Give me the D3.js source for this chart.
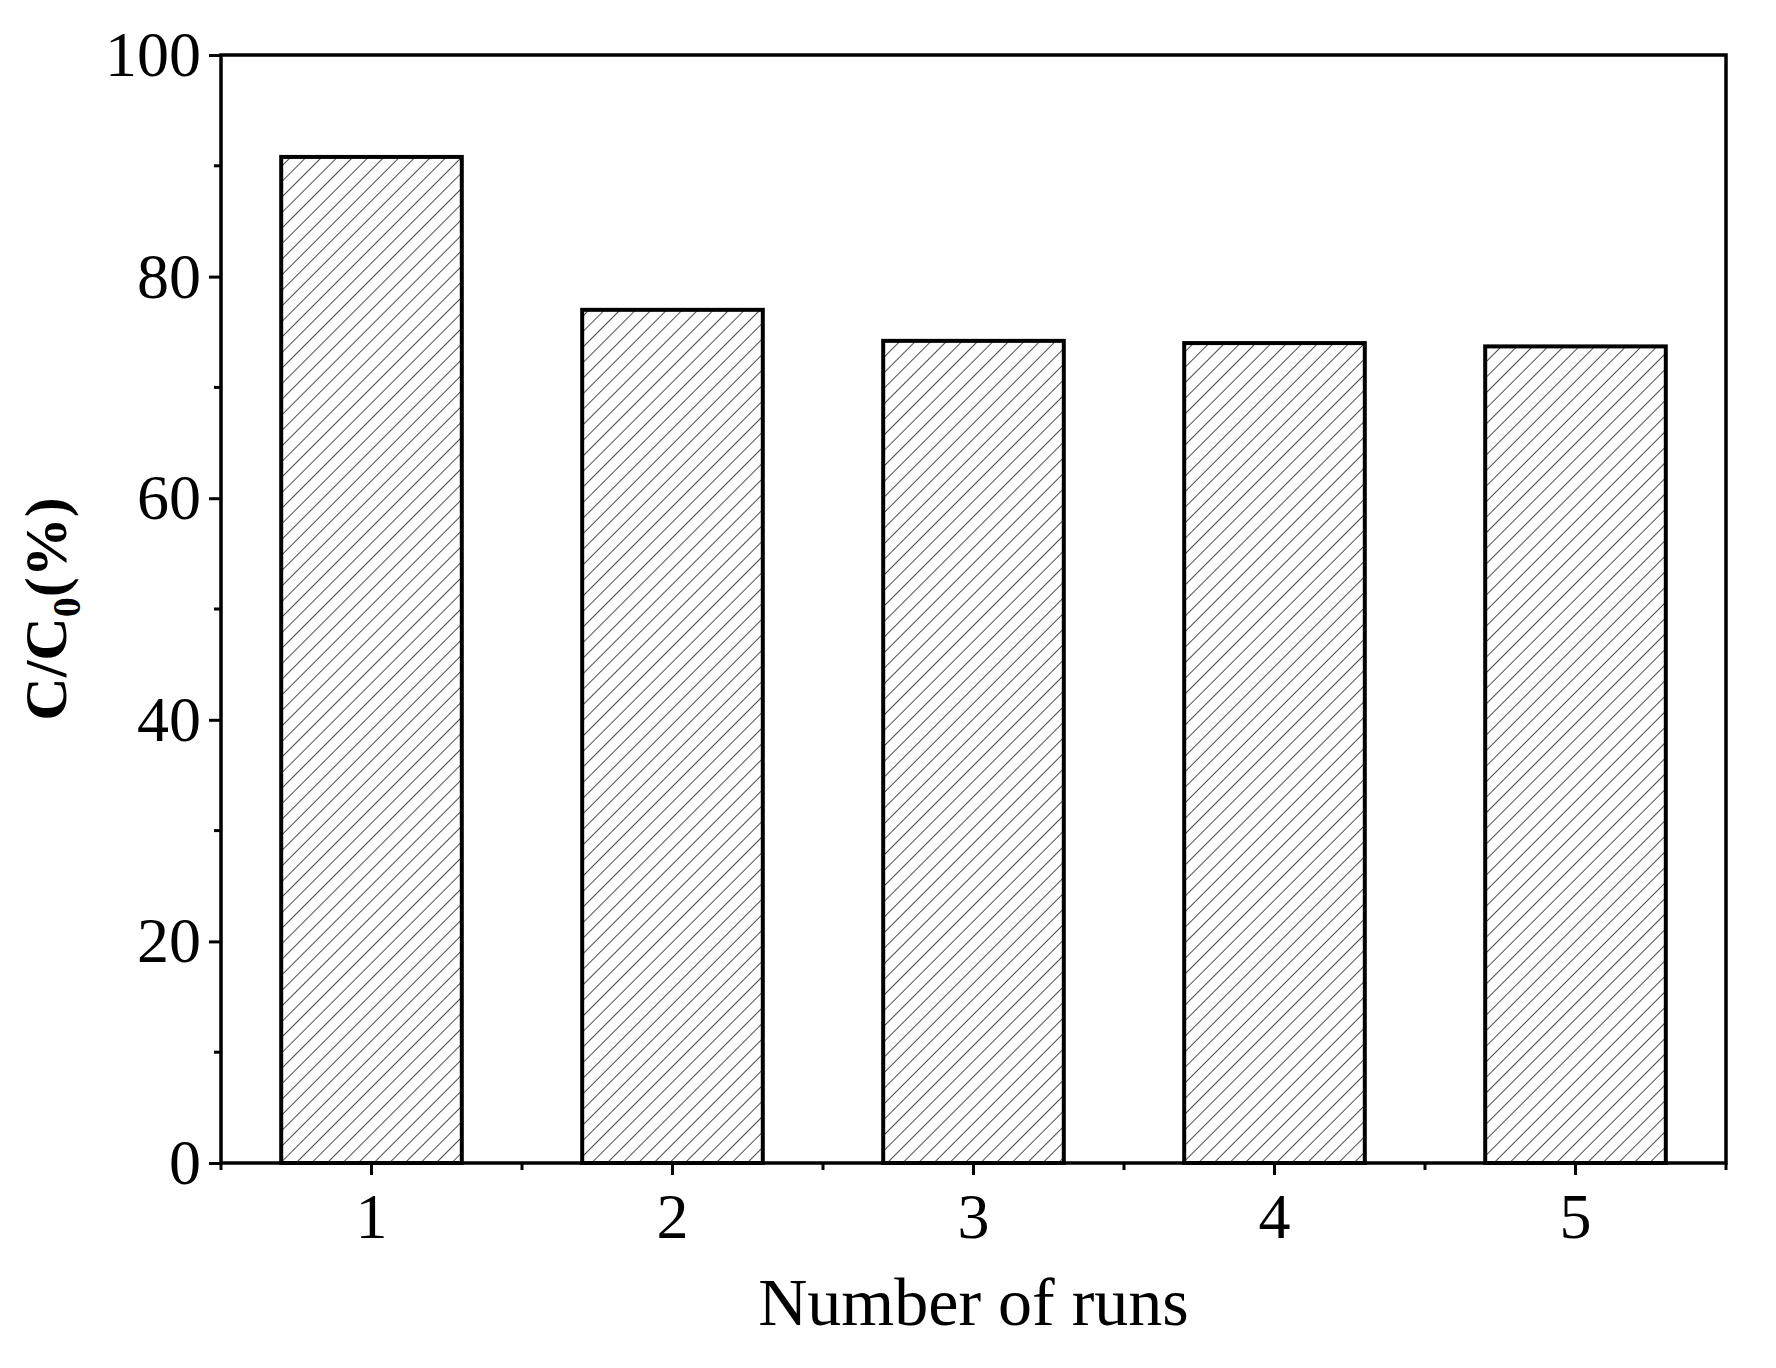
<!DOCTYPE html>
<html><head><meta charset="utf-8">
<script src="https://cdn.jsdelivr.net/npm/d3@7"></script>
<style>body{margin:0;background:#fff}text{font-family:"Liberation Serif","Times New Roman",serif}</style>
</head><body>
<script>
var runs = ["1", "2", "3", "4", "5"];
var ratio = [90.8, 77.0, 74.2, 74.0, 73.7];
var yTicks = [0, 20, 40, 60, 80, 100];
var yMinor = [10, 30, 50, 70, 90];

var W = 1776, H = 1368;
var margin = {top: 55, right: 50, bottom: 205, left: 221};
var width = W - margin.left - margin.right,
    height = H - margin.top - margin.bottom;

var svg = d3.select("body").append("svg").attr("width", W).attr("height", H);

var defs = svg.append("defs");
var pat = defs.append("pattern").attr("id", "hatch")
    .attr("patternUnits", "userSpaceOnUse").attr("width", 11).attr("height", 11)
    .attr("patternTransform", "rotate(45)");
pat.append("line").attr("x1", 0).attr("y1", 0).attr("x2", 0).attr("y2", 11)
    .attr("stroke", "#000").attr("stroke-width", 1.4);

var g = svg.append("g").attr("transform", "translate(" + margin.left + "," + margin.top + ")");

var x = d3.scaleBand().domain(runs).range([0, width]).paddingInner(0.4).paddingOuter(0.2);
var y = d3.scaleLinear().domain([0, 100]).range([height, 0]);

// bars
g.selectAll("rect.bar").data(runs).enter().append("rect")
    .attr("class", "bar")
    .attr("x", function(d) { return x(d); })
    .attr("y", function(d, i) { return y(ratio[i]); })
    .attr("width", x.bandwidth())
    .attr("height", function(d, i) { return height - y(ratio[i]); })
    .attr("fill", "url(#hatch)").attr("stroke", "#000").attr("stroke-width", 4);

// frame
g.append("rect").attr("width", width).attr("height", height)
    .attr("fill", "none").attr("stroke", "#000").attr("stroke-width", 3.5);

// y axis
var yAxis = g.append("g").call(d3.axisLeft(y).tickValues(yTicks).tickSize(12).tickPadding(8));
yAxis.selectAll("line").attr("stroke-width", 3);
yAxis.select(".domain").remove();
yAxis.selectAll("text").style("font-size", "64px");
g.selectAll("line.ymin").data(yMinor).enter().append("line").attr("class", "ymin")
    .attr("x1", -7).attr("x2", 0)
    .attr("y1", function(d) { return y(d); }).attr("y2", function(d) { return y(d); })
    .attr("stroke", "#000").attr("stroke-width", 3);

// x axis
var xAxis = g.append("g").attr("transform", "translate(0," + height + ")")
    .call(d3.axisBottom(x).tickSize(12).tickPadding(18));
xAxis.selectAll("line").attr("stroke-width", 3);
xAxis.select(".domain").remove();
xAxis.selectAll("text").style("font-size", "64px");
var xMinor = d3.range(runs.length + 1).map(function(i) { return i * width / runs.length; });
g.selectAll("line.xmin").data(xMinor).enter().append("line").attr("class", "xmin")
    .attr("x1", function(d) { return d; }).attr("x2", function(d) { return d; })
    .attr("y1", height).attr("y2", height + 7)
    .attr("stroke", "#000").attr("stroke-width", 3);

// titles
g.append("text").attr("x", width / 2).attr("y", height + 162)
    .attr("text-anchor", "middle").style("font-size", "68px").text("Number of runs");

var yl = g.append("text").attr("transform", "translate(-155," + (height / 2) + ") rotate(-90)")
    .attr("text-anchor", "middle").style("font-size", "60px").style("font-weight", "bold");
yl.append("tspan").text("C/C");
yl.append("tspan").attr("dy", 14).style("font-size", "40px").text("0");
yl.append("tspan").attr("dy", -14).text("(%)");
</script>
</body></html>
